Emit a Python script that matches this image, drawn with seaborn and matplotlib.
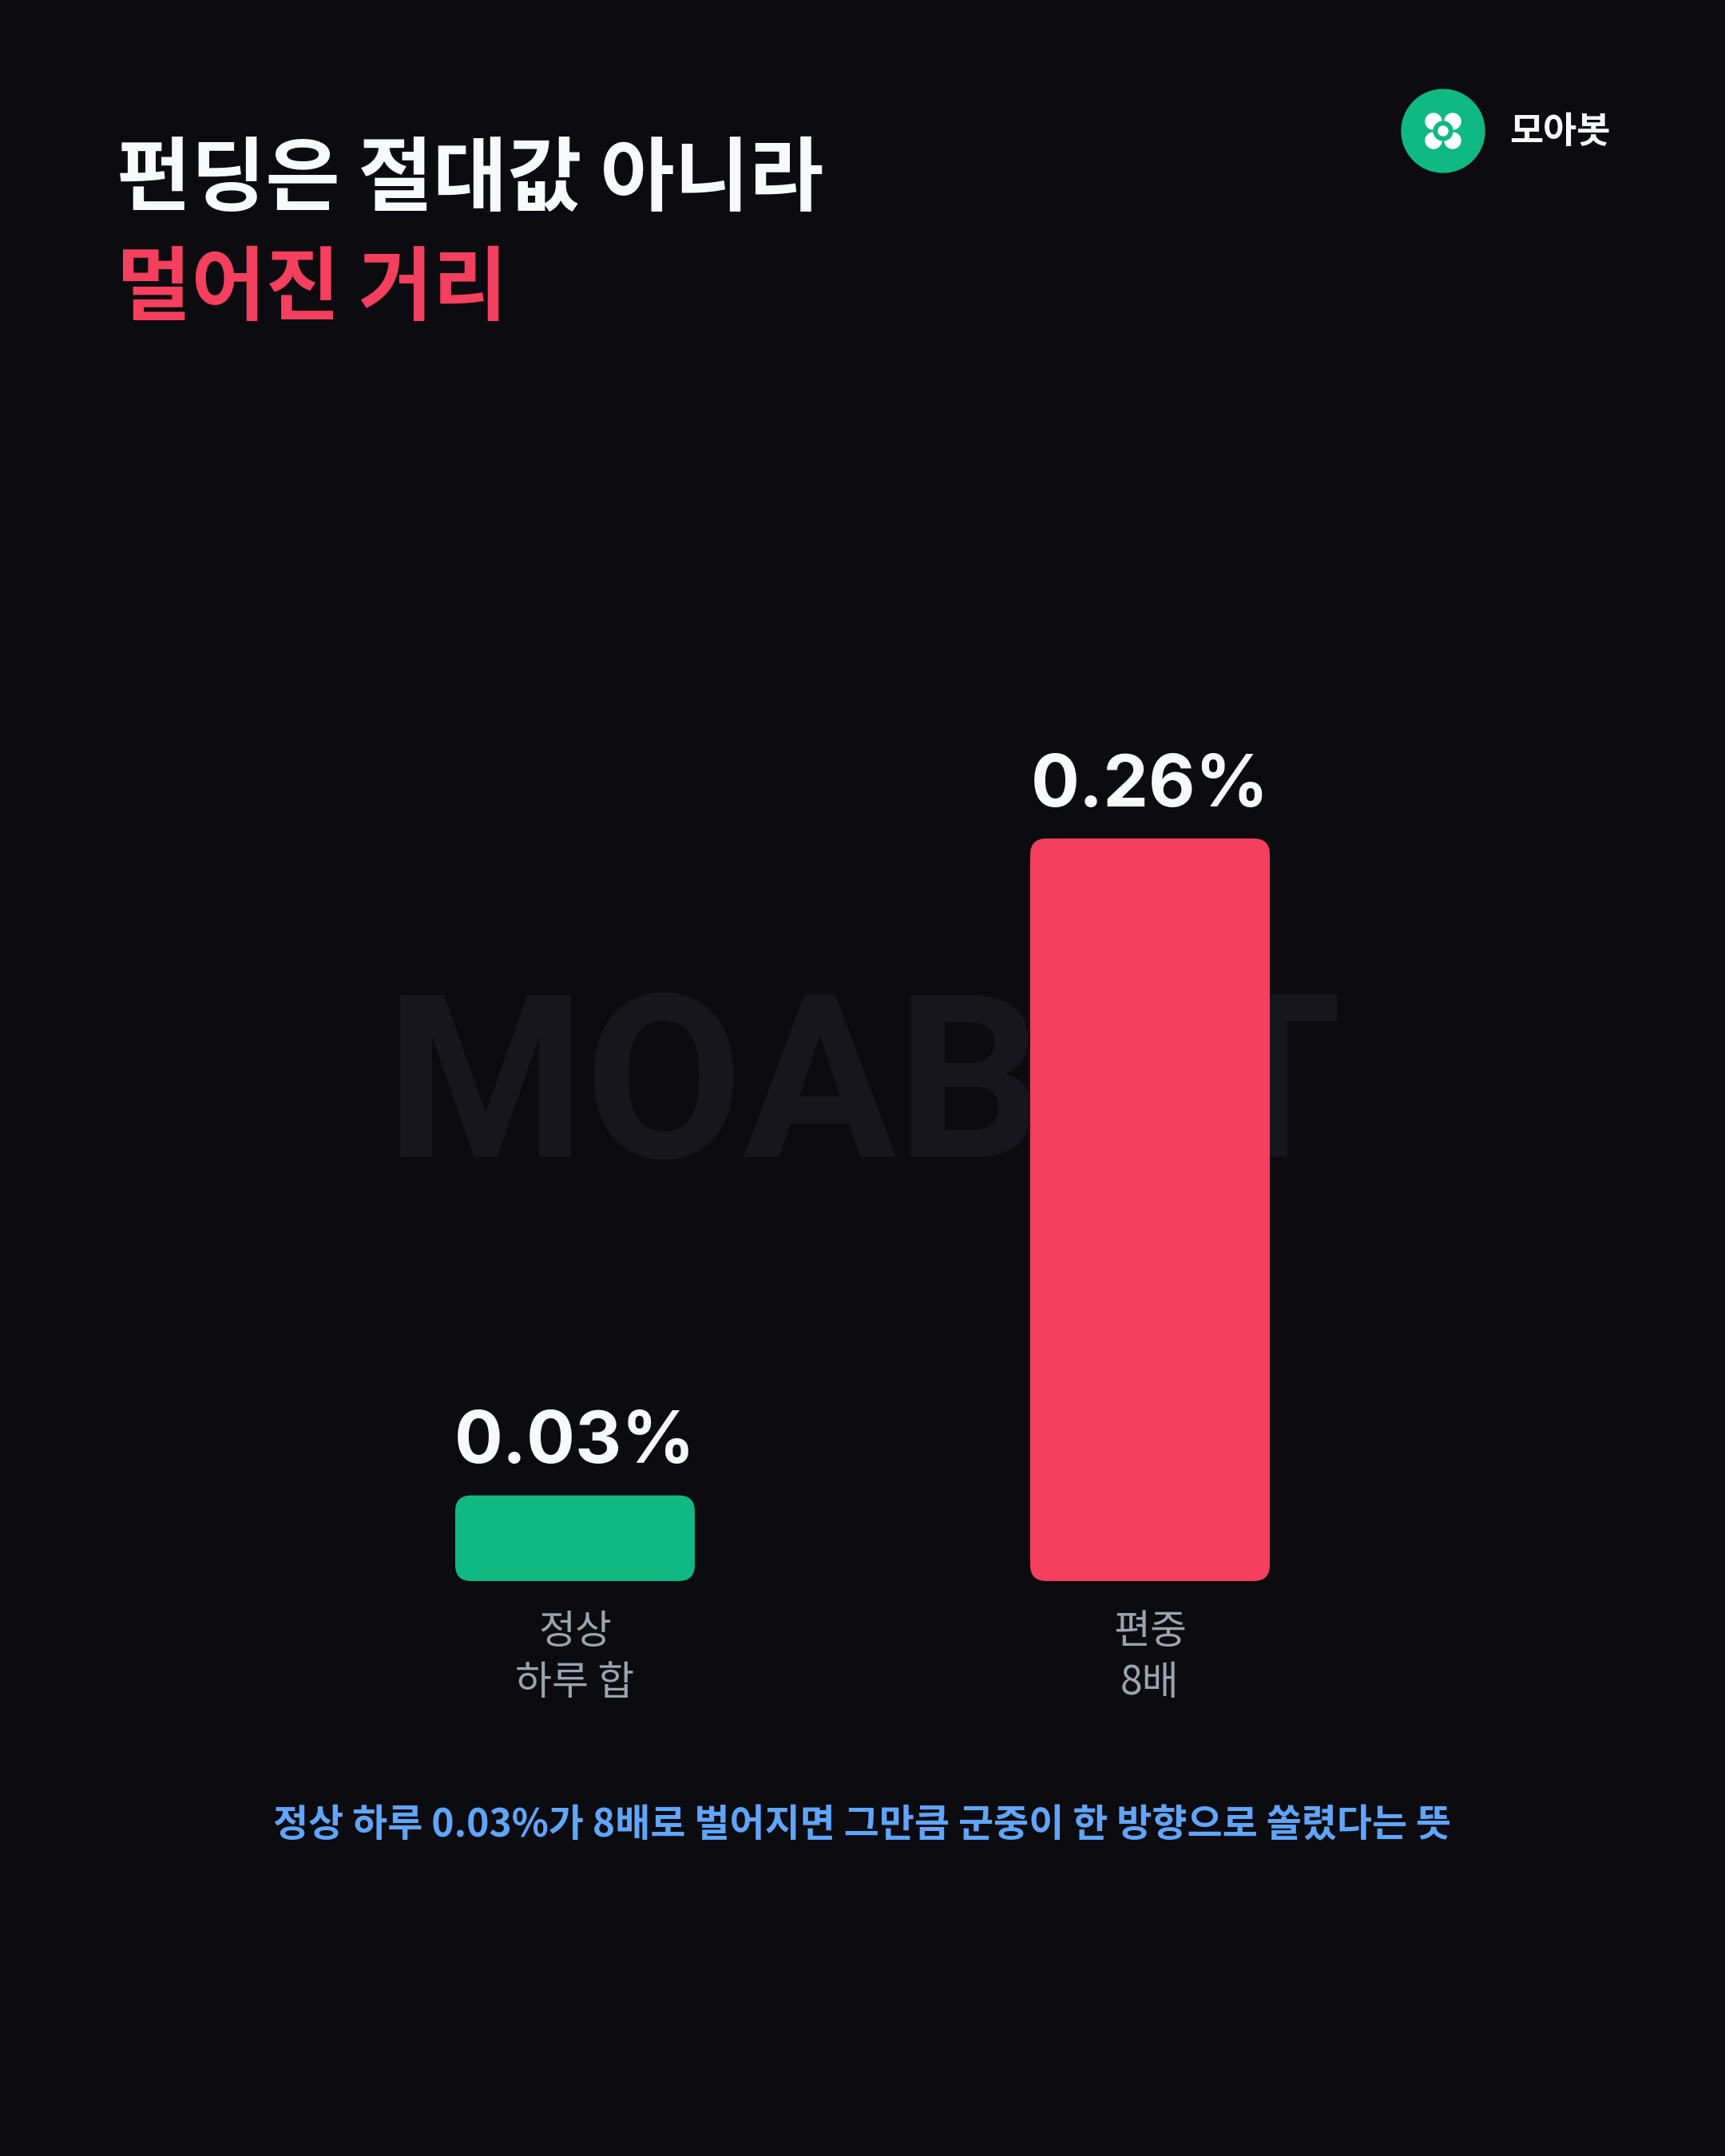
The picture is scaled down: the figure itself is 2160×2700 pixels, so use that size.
import matplotlib
matplotlib.use("Agg")
import matplotlib.pyplot as plt
from matplotlib.patches import FancyBboxPatch, Circle
import pandas as pd
import seaborn as sns

# chart data
categories = ["정상\n하루 합", "편중\n8배"]
funding_pct = [0.03, 0.26]
value_labels = ["0.03%", "0.26%"]
bar_colors = ["#10b981", "#f43f5e"]

title_line1 = "펀딩은 절대값 아니라"
title_line2 = "멀어진 거리"
brand_name = "모아봇"
watermark = "MOABOT"
footnote = "정상 하루 0.03%가 8배로 벌어지면 그만큼 군중이 한 방향으로 쏠렸다는 뜻"

BG = "#0b0b10"
WHITE = "#f8f9fb"
W, H = 2160, 2700

sns.set_theme(style="dark", rc={"axes.facecolor": BG, "figure.facecolor": BG})
plt.rcParams["font.family"] = ["Noto Sans CJK KR", "DejaVu Sans"]

fig = plt.figure(figsize=(W / 100, H / 100), dpi=100)

# background layer in pixel coordinates (titles, logo, watermark, footnote)
bg = fig.add_axes([0, 0, 1, 1], zorder=0)
bg.set_xlim(0, W)
bg.set_ylim(H, 0)
bg.axis("off")

bg.text(146, 256, title_line1, fontsize=73, fontweight="bold", color=WHITE,
        ha="left", va="baseline")
bg.text(146, 393, title_line2, fontsize=73, fontweight="bold", color="#f43f5e",
        ha="left", va="baseline")

# logo
bg.add_patch(Circle((1807, 164), 52, color="#10b981"))
for dx in (-12, 12):
    for dy in (-12, 12):
        bg.add_patch(Circle((1807 + dx, 164 + dy), 10, color="white"))
bg.add_patch(Circle((1807, 164), 12, color="#10b981"))
bg.add_patch(Circle((1807, 164), 6, color="white"))
bg.text(1890, 166, brand_name, fontsize=33, fontweight="bold", color=WHITE,
        ha="left", va="center")

bg.text(1082, 1449, watermark, family=["Roboto", "DejaVu Sans"], fontsize=206,
        fontweight="bold", color="#16161c", ha="center", va="baseline")

bg.text(1080, 2286, footnote, fontsize=34.5, fontweight="bold", color="#60a5fa",
        ha="center", va="center")

# bar chart
df = pd.DataFrame({"label": categories, "value": funding_pct})
ax = fig.add_axes([0, 720 / H, 1, 1073 / H], zorder=1)
ax.patch.set_alpha(0)
sns.barplot(data=df, x="label", y="value", hue="label",
            palette=dict(zip(categories, bar_colors)), width=300 / 720,
            saturation=1, legend=False, ax=ax)
ax.set_xlim(-1, 2)
ax.set_ylim(0, 0.30)

# round the bar corners
xpp = 3 / W
ypp = 0.30 / 1073
for bar in list(ax.patches):
    fb = FancyBboxPatch((bar.get_x(), bar.get_y()), bar.get_width(), bar.get_height(),
                        boxstyle=f"round,pad=0,rounding_size={20 * xpp}",
                        mutation_aspect=ypp / xpp, fc=bar.get_facecolor(), ec="none")
    bar.remove()
    ax.add_patch(fb)

for i, (v, lab) in enumerate(zip(funding_pct, value_labels)):
    ax.annotate(lab, (i, v), xytext=(0, 29), textcoords="offset points",
                ha="center", va="baseline", fontsize=65, fontweight="bold",
                color=WHITE, family=["Inter", "DejaVu Sans"])

ax.grid(False)
for s in ax.spines.values():
    s.set_visible(False)
ax.set_yticks([])
ax.set_xlabel("")
ax.set_ylabel("")
ax.set_xticks([0, 1], categories)
ax.tick_params(axis="x", length=0, pad=27, labelsize=36, labelcolor="#9ca3af")
for t in ax.get_xticklabels():
    t.set_linespacing(1.3)
    t.set_fontweight("medium")

fig.savefig("out.png", dpi=100, facecolor=BG)
